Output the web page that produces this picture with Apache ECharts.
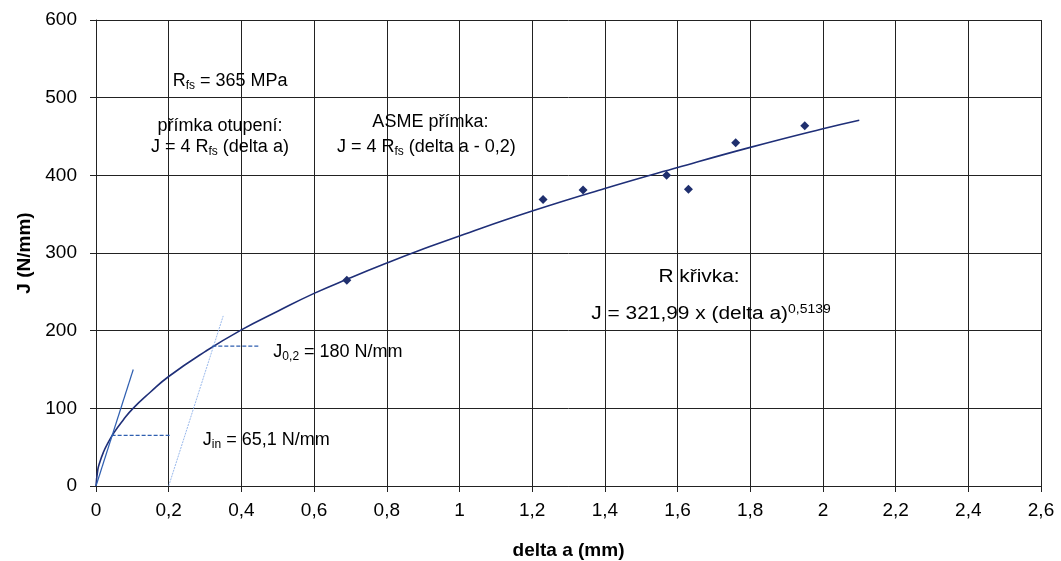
<!DOCTYPE html>
<html><head><meta charset="utf-8">
<script src="https://cdn.jsdelivr.net/npm/echarts@6/dist/echarts.min.js"></script>
<style>html,body{margin:0;padding:0;background:#fff}#c{width:1061px;height:561px}</style>
</head><body><div id="c"></div>
<script>
// Measured points (delta a [mm], J [N/mm])
const pointsX = [0.69, 1.23, 1.34, 1.57, 1.63, 1.76, 1.95];
const pointsY = [265, 369, 381, 400, 382, 442, 464];
// R curve
const curveX = [0, 0.005, 0.01, 0.02, 0.03, 0.05, 0.075, 0.1, 0.15, 0.2, 0.3, 0.4, 0.5, 0.6, 0.7, 0.8, 0.9, 1.0, 1.2, 1.4, 1.6, 1.8, 2.0, 2.1];
const curveY = [0, 21, 30, 43, 53, 69, 85, 99, 121, 141, 173, 201, 225, 248, 268, 287, 305, 322, 354, 383, 410, 436, 460, 471];
// Blunting line and ASME line
const bluntX = [0, 0.1025];
const bluntY = [0, 150];
const asmeX = [0.2, 0.35];
const asmeY = [0, 219];
// Dashed markers of J_in and J_0,2
const jinX = [0.043, 0.208];
const jinY = [65.1, 65.1];
const j02X = [0.32, 0.45];
const j02Y = [180, 180];
// Axis ticks
const xMin = 0, xMax = 2.6, xStep = 0.2;
const yMin = 0, yMax = 600, yStep = 100;
// Annotation texts and their anchors (data coordinates)
const noteTexts = [
  '{t|R}{s|fs}{t| = 365 MPa}',
  '{t|přímka otupení:}',
  '{t|J = 4 R}{s|fs}{t| (delta a)}',
  '{t|ASME přímka:}',
  '{t|J = 4 R}{s|fs}{t| (delta a - 0,2)}',
  '{t|R křivka:}',
  '{t|J = 321,99 x (delta a)}{p|0,5139}',
  '{t|J}{s|0,2}{t| = 180 N/mm}',
  '{t|J}{s|in}{t| = 65,1 N/mm}'
];
const noteX = [0.369, 0.341, 0.341, 0.920, 0.909, 1.659, 1.692, 0.488, 0.294];
const noteY = [522, 463, 437, 468, 437, 268.6, 221, 172.7, 59.4];
const noteAlign = ['center', 'center', 'center', 'center', 'center', 'center', 'center', 'left', 'left'];
const noteStretch = [1, 1, 1, 1, 1, 1.16, 1.16, 1, 1];

const F = 'Liberation Sans, Arial, sans-serif';
const rich = {
  t: {fontSize: 18, fontFamily: F, fill: '#000', color: '#000', lineHeight: 22},
  s: {fontSize: 12, fontFamily: F, fill: '#000', color: '#000', lineHeight: 6, verticalAlign: 'bottom'},
  p: {fontSize: 12, fontFamily: F, fill: '#000', color: '#000', lineHeight: 8, verticalAlign: 'top'}
};
const zip = (a, b) => a.map((v, i) => [v, b[i]]);

const chart = echarts.init(document.getElementById('c'));
chart.setOption({
  animation: false,
  backgroundColor: '#fff',
  grid: {left: 96, right: 20, top: 20, bottom: 75, containLabel: false, outerBoundsMode: 'none'},
  xAxis: {
    type: 'value', min: xMin, max: xMax, interval: xStep,
    name: 'delta a (mm)', nameLocation: 'middle', nameGap: 55,
    nameTextStyle: {fontSize: 19, fontWeight: 'bold', fontFamily: F, color: '#000'},
    axisLine: {show: true, lineStyle: {color: '#222', width: 1}},
    axisTick: {show: true, length: 6, lineStyle: {color: '#222'}},
    axisLabel: {fontSize: 19, fontFamily: F, color: '#000', margin: 15,
      formatter: v => (Math.round(v * 10) / 10).toString().replace('.', ',')},
    splitLine: {show: true, lineStyle: {color: '#222', width: 1}}
  },
  yAxis: {
    type: 'value', min: yMin, max: yMax, interval: yStep,
    name: 'J (N/mm)', nameLocation: 'middle', nameGap: 62,
    nameTextStyle: {fontSize: 19, fontWeight: 'bold', fontFamily: F, color: '#000'},
    axisLine: {show: true, lineStyle: {color: '#222', width: 1}},
    axisTick: {show: true, length: 6, lineStyle: {color: '#222'}},
    axisLabel: {fontSize: 19, fontFamily: F, color: '#000', margin: 19},
    splitLine: {show: true, lineStyle: {color: '#222', width: 1}}
  },
  series: [
    {type: 'line', data: zip(curveX, curveY), smooth: true, symbol: 'none',
      lineStyle: {color: '#1f2f78', width: 1.6}, z: 3},
    {type: 'line', data: zip(bluntX, bluntY), symbol: 'none',
      lineStyle: {color: '#2f5fb0', width: 1.2}, z: 3},
    {type: 'line', data: zip(asmeX, asmeY), symbol: 'none',
      lineStyle: {color: '#7fa6e6', width: 0.8, type: [2, 1]}, z: 3},
    {type: 'line', data: zip(jinX, jinY), symbol: 'none',
      lineStyle: {color: '#2f5fb0', width: 1.2, type: [4, 2]}, z: 3},
    {type: 'line', data: zip(j02X, j02Y), symbol: 'none',
      lineStyle: {color: '#2f5fb0', width: 1.2, type: [4, 2]}, z: 3},
    {type: 'scatter', data: zip(pointsX, pointsY), symbol: 'diamond', symbolSize: 9,
      itemStyle: {color: '#1f2f6e', opacity: 1}, z: 4}
  ]
});

const graphics = noteTexts.map((txt, i) => {
  const p = chart.convertToPixel({gridIndex: 0}, [noteX[i], noteY[i]]);
  return {
    type: 'text', x: p[0], y: p[1], scaleX: noteStretch[i], z: 10, silent: true,
    style: {text: txt, rich: rich, font: '18px ' + F, fill: '#000',
      align: noteAlign[i], verticalAlign: 'middle',
      textAlign: noteAlign[i], textVerticalAlign: 'middle'}
  };
});
chart.setOption({graphic: {elements: graphics}});
</script></body></html>
